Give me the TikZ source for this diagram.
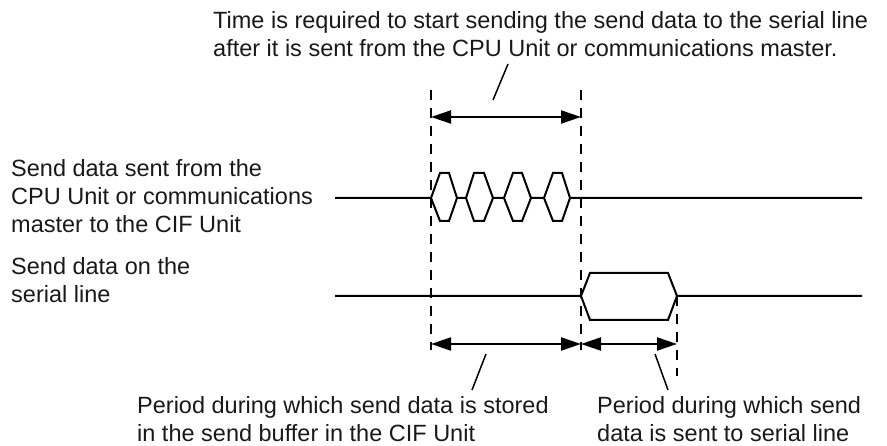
\documentclass[tikz,border=0pt]{standalone}
\usepackage{fontspec}
\setmainfont{Liberation Sans}
\usetikzlibrary{arrows.meta}
\begin{document}
\begin{tikzpicture}[x=1pt,y=-1pt,
  lbl/.style={anchor=base west, inner sep=0pt, font=\fontsize{23.5}{28}\selectfont, text=black!90},
  sig/.style={line width=2pt, line join=miter},
  guide/.style={line width=1.5pt, dash pattern=on 10pt off 8pt},
  span/.style={line width=2pt, {Triangle[length=20pt,width=13pt]}-{Triangle[length=20pt,width=13pt]}},
  leader/.style={line width=1.5pt}]
\useasboundingbox (0,0) rectangle (887,446);
% texts
\node[lbl] (t1) at (213,29) {Time is required to start sending the send data to the serial line};
\node[lbl] (t2) at (213,57) {after it is sent from the CPU Unit or communications master.};
\node[lbl] (a1) at (11,177) {Send data sent from the};
\node[lbl] (a2) at (11,205) {CPU Unit or communications};
\node[lbl] (a3) at (11,233) {master to the CIF Unit};
\node[lbl] (b1) at (11,275) {Send data on the};
\node[lbl] (b2) at (11,303) {serial line};
\node[lbl] (c1) at (137,414) {Period during which send data is stored};
\node[lbl] (c2) at (137,442) {in the send buffer in the CIF Unit};
\node[lbl] (d1) at (597,414) {Period during which send};
\node[lbl] (d2) at (597,442) {data is sent to serial line};
% guide coordinates
\coordinate (g1t) at (431,90);
\coordinate (g1b) at (431,350);
\coordinate (g2t) at (581,90);
\coordinate (g2b) at (581,350);
\coordinate (g3t) at (677,296);
\coordinate (g3b) at (677,376);
\draw[guide] (g1t) -- (g1b);
\draw[guide] (g2t) -- (g2b);
\draw[guide] (g3t) -- (g3b);
% span arrows
\coordinate (s1l) at (431,117);
\coordinate (s1r) at (581,117);
\coordinate (s2l) at (431,344);
\coordinate (s2r) at (581,344);
\coordinate (s3l) at (581,344);
\coordinate (s3r) at (677,344);
\draw[span] (s1l) -- (s1r);
\draw[span] (s2l) -- (s2r);
\draw[span] (s3l) -- (s3r);
% leaders
\coordinate (l1a) at (493,100);
\coordinate (l1b) at (508,64);
\coordinate (l2a) at (486,354);
\coordinate (l2b) at (472,390);
\coordinate (l3a) at (655,354);
\coordinate (l3b) at (668,390);
\draw[leader] (l1a) -- (l1b);
\draw[leader] (l2a) -- (l2b);
\draw[leader] (l3a) -- (l3b);
% row 1 signal
\draw[sig] (335,198) -- (431,198)
  -- (440,173) -- (449,173) -- (457,198) -- (449,221) -- (440,221) -- (431,198)
  (457,198) -- (466,198)
  -- (474,173) -- (484,173) -- (493,198) -- (484,221) -- (474,221) -- (466,198)
  (493,198) -- (504,198)
  -- (513,173) -- (522,173) -- (531,198) -- (522,221) -- (513,221) -- (504,198)
  (531,198) -- (544,198)
  -- (553,173) -- (562,173) -- (570,198) -- (562,221) -- (553,221) -- (544,198)
  (570,198) -- (862,198);
% row 2 signal
\draw[sig] (335,296) -- (581,296)
  -- (590,273) -- (668,273) -- (677,296) -- (668,320) -- (590,320) -- (581,296)
  (677,296) -- (862,296);
\end{tikzpicture}
\end{document}
